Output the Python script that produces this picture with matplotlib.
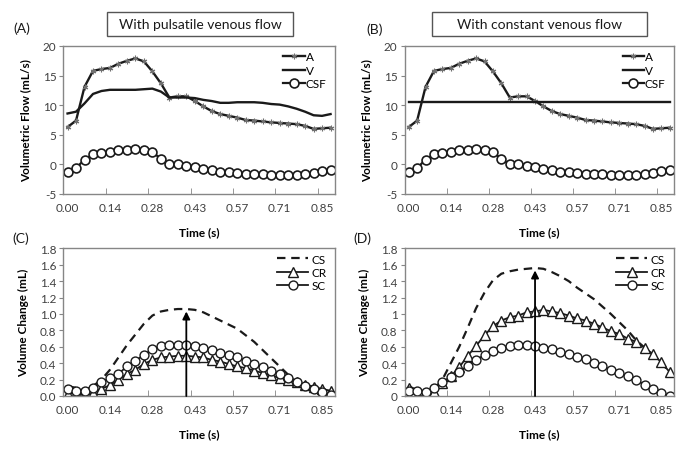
import matplotlib
matplotlib.use('Agg')
import matplotlib.pyplot as plt
from matplotlib.patches import Rectangle

plt.rcParams['font.family'] = ['Lato', 'DejaVu Sans']
plt.rcParams['axes.unicode_minus'] = False

# x categories (32 samples), labelled every 5th
time_labels = ['0.00', '0.14', '0.28', '0.43', '0.57', '0.71', '0.85']

# flow (mL/s)
artery = [6.3, 7.4, 13.1, 15.8, 16.1, 16.3, 17.0, 17.5, 17.9, 17.4, 15.7, 13.7, 11.3,
          11.5, 11.5, 10.7, 9.8, 9.0, 8.5, 8.2, 7.9, 7.5, 7.4, 7.25, 7.1, 7.0, 6.9,
          6.8, 6.5, 6.0, 6.1, 6.2]
vein_pulsatile = [8.6, 8.9, 10.3, 11.9, 12.4, 12.6, 12.6, 12.6, 12.6, 12.7, 12.8, 12.3,
                  11.3, 11.3, 11.3, 11.2, 10.9, 10.7, 10.4, 10.4, 10.5, 10.5, 10.5, 10.4,
                  10.2, 10.1, 9.8, 9.4, 8.9, 8.3, 8.2, 8.5]
vein_constant = [10.6] * 32
csf = [-1.2, -0.6, 0.8, 1.7, 2.0, 2.1, 2.35, 2.5, 2.6, 2.5, 2.15, 0.9, 0.0, 0.0, -0.25,
       -0.45, -0.75, -0.95, -1.2, -1.35, -1.5, -1.6, -1.65, -1.7, -1.75, -1.8, -1.85,
       -1.75, -1.6, -1.4, -1.05, -1.0]

# volume change (mL), panel C (pulsatile venous flow)
cs_c = [0.12, 0.1, 0.07, 0.12, 0.2, 0.32, 0.47, 0.62, 0.75, 0.88, 0.98, 1.03, 1.05, 1.06,
        1.06, 1.05, 1.02, 0.97, 0.92, 0.87, 0.82, 0.74, 0.66, 0.56, 0.46, 0.36, 0.26,
        0.16, 0.1, 0.07, 0.05, 0.03]
cr_c = [0.03, 0.04, 0.0, 0.04, 0.09, 0.13, 0.2, 0.27, 0.32, 0.39, 0.44, 0.47, 0.48, 0.49,
        0.49, 0.48, 0.47, 0.44, 0.42, 0.39, 0.36, 0.34, 0.31, 0.28, 0.25, 0.22, 0.195,
        0.165, 0.14, 0.115, 0.085, 0.065]
sc_c = [0.09, 0.065, 0.06, 0.1, 0.17, 0.22, 0.27, 0.36, 0.43, 0.5, 0.57, 0.61, 0.62, 0.62,
        0.62, 0.61, 0.59, 0.56, 0.53, 0.5, 0.47, 0.43, 0.39, 0.35, 0.31, 0.27, 0.215,
        0.175, 0.125, 0.085, 0.045, 0.01]

# volume change (mL), panel D (constant venous flow)
cs_d = [0.12, 0.07, 0.05, 0.08, 0.2, 0.4, 0.6, 0.83, 1.07, 1.26, 1.41, 1.49, 1.52, 1.54,
        1.55, 1.56, 1.55, 1.51, 1.46, 1.4, 1.32, 1.25, 1.18, 1.09, 1.0, 0.9, 0.8, 0.68,
        0.59, 0.5, 0.4, 0.29]
cr_d = [0.094, 0.0, 0.0, 0.045, 0.16, 0.24, 0.35, 0.49, 0.61, 0.74, 0.85, 0.92, 0.96, 0.98,
        1.02, 1.03, 1.05, 1.03, 1.01, 0.98, 0.945, 0.92, 0.88, 0.835, 0.79, 0.755, 0.7,
        0.66, 0.59, 0.51, 0.41, 0.29]
sc_d = [0.065, 0.065, 0.045, 0.094, 0.167, 0.23, 0.29, 0.37, 0.44, 0.5, 0.55, 0.59, 0.61,
        0.62, 0.62, 0.61, 0.59, 0.57, 0.54, 0.51, 0.48, 0.445, 0.4, 0.36, 0.32, 0.28, 0.24,
        0.19, 0.14, 0.085, 0.036, 0.0]

# arrows at peak CS (category index, tip value)
arrow_c = (14, 1.03)
arrow_d = (15, 1.53)

flow_ticks = [-5, 0, 5, 10, 15, 20]
vol_ticks = [0, 0.2, 0.4, 0.6, 0.8, 1.0, 1.2, 1.4, 1.6, 1.8]
vol_labels_c = ['0.0', '0.2', '0.4', '0.6', '0.8', '1.0', '1.2', '1.4', '1.6', '1.8']
vol_labels_d = ['0', '0.2', '0.4', '0.6', '0.8', '1', '1.2', '1.4', '1.6', '1.8']

GRAY = '#868686'
TXT = '#404040'

fig = plt.figure(figsize=(6.84, 4.52), dpi=100)
W, H = 684, 452


def make_axes(left, top, right, bottom):
    return fig.add_axes([left / W, 1 - bottom / H, (right - left) / W, (bottom - top) / H])


axA = make_axes(63.3, 47, 334.8, 195)
axB = make_axes(404.5, 47, 674, 195)
axC = make_axes(63.3, 249.3, 334.8, 397)
axD = make_axes(404.5, 249.3, 674, 397)

n = len(artery)
idx = list(range(n))


def style(ax, yticks, ylabels, ylabel):
    ax.set_xlim(-0.5, n - 0.5)
    ax.set_ylim(yticks[0], yticks[-1])
    ax.set_xticks(idx[::5])
    ax.set_xticklabels(time_labels)
    ax.set_xticks([i - 0.5 for i in idx[::5]] + [n - 0.5], minor=True)
    ax.tick_params(axis='x', which='major', length=0, labelsize=8.5, labelcolor=TXT, pad=6)
    ax.tick_params(axis='x', which='minor', length=4, direction='in', color=GRAY)
    ax.set_yticks(yticks)
    ax.set_yticklabels(ylabels)
    ax.tick_params(axis='y', length=3, direction='out', color=GRAY, labelsize=8.5,
                   labelcolor=TXT, pad=2)
    for sp in ax.spines.values():
        sp.set_color(GRAY)
        sp.set_linewidth(1)
    ax.set_xlabel('Time (s)', fontsize=8.5, fontweight='bold', labelpad=9)
    ax.set_ylabel(ylabel, fontsize=8.5, fontweight='bold', labelpad=8)


def flow_panel(ax, vein):
    ax.plot(idx, artery, color='#1a1a1a', lw=1.7, marker=(6, 2, 0), ms=4,
            mec='#707070', mew=0.8, label='A')
    ax.plot(idx, vein, color='#1a1a1a', lw=1.7, label='V')
    ax.plot(idx, csf, color='#1a1a1a', lw=1.6, marker='o', ms=6.4, mfc='white',
            mec='#1a1a1a', mew=1.2, label='CSF')
    style(ax, flow_ticks, [str(t) for t in flow_ticks], 'Volumetric Flow (mL/s)')
    ax.legend(loc='upper right', bbox_to_anchor=(1.0, 1.02), frameon=False, fontsize=8.5,
              handlelength=1.8, handletextpad=0.1, labelspacing=0.2, borderaxespad=0.3)


def volume_panel(ax, cs, cr, sc, arrow, ylabels):
    ax.plot(idx, cs, color='#1a1a1a', lw=1.6, ls=(0, (3.8, 2.6)), label='CS')
    ax.plot(idx, cr, color='#1a1a1a', lw=1.3, marker='^', ms=6.8, mfc='white',
            mec='#1a1a1a', mew=1.0, label='CR')
    ax.plot(idx, sc, color='#1a1a1a', lw=1.3, marker='o', ms=6.4, mfc='white',
            mec='#1a1a1a', mew=1.0, label='SC')
    ax.annotate('', xy=(arrow[0], arrow[1]), xytext=(arrow[0], 0),
                arrowprops=dict(arrowstyle='-|>', color='black', lw=1.3, mutation_scale=11,
                                shrinkA=0, shrinkB=0))
    style(ax, vol_ticks, ylabels, 'Volume Change (mL)')
    ax.legend(loc='upper right', bbox_to_anchor=(1.0, 1.02), frameon=False, fontsize=8.5,
              handlelength=2.6, handletextpad=0.3, labelspacing=0.2, borderaxespad=0.3)


flow_panel(axA, vein_pulsatile)
flow_panel(axB, vein_constant)
volume_panel(axC, cs_c, cr_c, sc_c, arrow_c, vol_labels_c)
volume_panel(axD, cs_d, cr_d, sc_d, arrow_d, vol_labels_d)

# panel letters
for x, y, s in [(13, 29, '(A)'), (366, 30, '(B)'), (12, 239, '(C)'), (353, 239, '(D)')]:
    fig.text(x / W, 1 - y / H, s, fontsize=10, va='center', ha='left', color='#1a1a1a')

# title boxes
for x0, x1, s in [(107, 293, 'With pulsatile venous flow'), (432, 647, 'With constant venous flow')]:
    fig.patches.append(Rectangle((x0 / W, 1 - 37 / H), (x1 - x0) / W, 24 / H,
                                 transform=fig.transFigure, fill=False, ec='#555555', lw=1))
    fig.text((x0 + x1) / 2 / W, 1 - 25 / H, s, fontsize=10, ha='center', va='center',
             color='#1a1a1a')

fig.savefig('out.png', dpi=100)
